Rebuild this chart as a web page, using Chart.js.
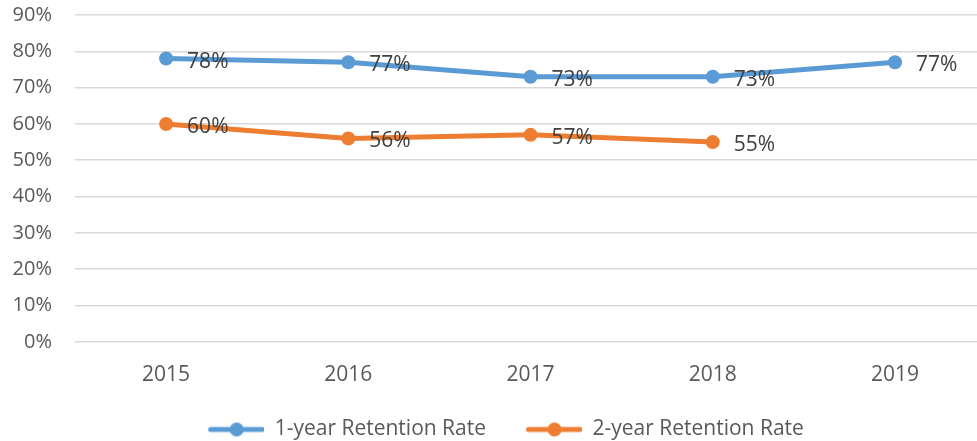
<!DOCTYPE html>
<html>
<head>
<meta charset="utf-8">
<script src="https://cdn.jsdelivr.net/npm/chart.js@4.4.0/dist/chart.umd.min.js"></script>
<style>
    html, body { margin: 0; padding: 0; background: #fff; overflow: hidden; }
    #retention-chart { display: block; }
</style>
</head>
<body>
<canvas id="retention-chart" width="977" height="441"></canvas>
<script>
const years = [2015, 2016, 2017, 2018, 2019];
const oneYear = [78, 77, 73, 73, 77];
const twoYear = [60, 56, 57, 55, null];
const yTicks = [0, 10, 20, 30, 40, 50, 60, 70, 80, 90];

const BLUE = '#5B9BD5';
const ORANGE = '#ED7D31';
const FONT = "'Open Sans', sans-serif";

// legend swatch: short line with a dot in the middle, right-aligned in the icon
const swatch = (color) => {
    const c = document.createElement('canvas');
    c.width = 78; c.height = 16;
    const ctx = c.getContext('2d');
    ctx.strokeStyle = color;
    ctx.lineWidth = 5;
    ctx.lineCap = 'round';
    ctx.beginPath();
    ctx.moveTo(24.5, 8); ctx.lineTo(76, 8);
    ctx.stroke();
    ctx.fillStyle = color;
    ctx.beginPath();
    ctx.arc(50.5, 8, 7, 0, Math.PI * 2);
    ctx.fill();
    return c;
};

const points = (values) => years.map((x, i) => ({ x, y: values[i] }));

const valueLabels = {
    id: 'valueLabels',
    afterDatasetsDraw(chart) {
        const ctx = chart.ctx;
        ctx.save();
        ctx.font = `21px ${FONT}`;
        ctx.fillStyle = '#404040';
        ctx.textAlign = 'left';
        ctx.textBaseline = 'middle';
        chart.data.datasets.forEach((ds, i) => {
            chart.getDatasetMeta(i).data.forEach((pt, j) => {
                const v = ds.data[j].y;
                if (v == null) return;
                ctx.fillText(v + '%', pt.x + 21, pt.y + 3);
            });
        });
        ctx.restore();
    }
};

new Chart(document.getElementById('retention-chart').getContext('2d'), {
    type: 'line',
    data: {
        datasets: [{
            label: '1-year Retention Rate',
            data: points(oneYear),
            borderColor: BLUE,
            backgroundColor: BLUE,
            legendIcon: swatch(BLUE),
        }, {
            label: '2-year Retention Rate',
            data: points(twoYear),
            borderColor: ORANGE,
            backgroundColor: ORANGE,
            legendIcon: swatch(ORANGE),
        }]
    },
    options: {
        responsive: false,
        animation: false,
        layout: { autoPadding: false, padding: { top: 15, left: 13, right: 0, bottom: -9 } },
        elements: {
            point: { pointStyle: 'circle', radius: 7, hoverRadius: 7, borderWidth: 0 },
            line: { borderWidth: 5, tension: 0, borderCapStyle: 'round' }
        },
        plugins: {
            tooltip: { enabled: false },
            legend: {
                position: 'bottom',
                labels: {
                    usePointStyle: true,
                    pointStyleWidth: 78,
                    color: '#595959',
                    font: { family: FONT, size: 21 },
                    padding: 18,
                    generateLabels(chart) {
                        return chart.data.datasets.map((ds, i) => ({
                            text: ds.label,
                            pointStyle: ds.legendIcon,
                            fontColor: '#595959',
                            datasetIndex: i,
                            hidden: false,
                            lineWidth: 0,
                        }));
                    }
                }
            }
        },
        scales: {
            x: {
                type: 'linear',
                min: 2014.5,
                max: 2019.45,
                afterBuildTicks(axis) { axis.ticks = years.map(v => ({ value: v })); },
                afterFit(axis) { axis.paddingLeft = 0; axis.paddingRight = 0; },
                grid: { display: false },
                border: { display: false },
                ticks: {
                    color: '#595959',
                    font: { family: FONT, size: 21 },
                    padding: 13,
                    maxRotation: 0,
                    callback: (v) => String(v)
                }
            },
            y: {
                min: 0,
                max: 90,
                afterBuildTicks(axis) { axis.ticks = yTicks.map(v => ({ value: v })); },
                afterFit(axis) { axis.width = 62; },
                grid: { color: '#D9D9D9', lineWidth: 1.5, drawTicks: true, tickLength: 23, tickColor: 'rgba(0,0,0,0)' },
                border: { display: false },
                ticks: {
                    color: '#595959',
                    font: { family: FONT, size: 20 },
                    padding: 0,
                    callback: (v) => v + '%'
                }
            }
        }
    },
    plugins: [valueLabels]
});
</script>
</body>
</html>
